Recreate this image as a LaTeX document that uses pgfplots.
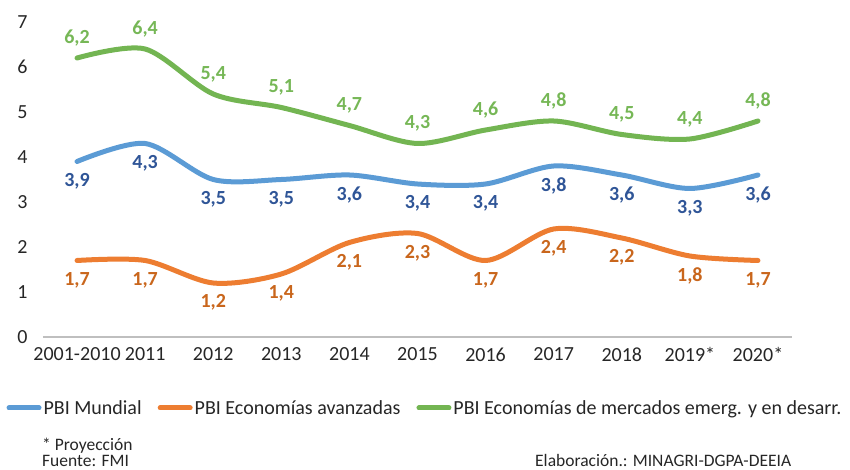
\documentclass[border=0pt]{standalone}
\usepackage{fontspec}
\setmainfont{Carlito}
\usepackage{pgfplots}
\pgfplotsset{compat=1.18}
\definecolor{lblue}{HTML}{5B9BD5}
\definecolor{lorange}{HTML}{ED7D31}
\definecolor{lgreen}{HTML}{73B552}
\definecolor{tblue}{HTML}{2F5597}
\definecolor{torange}{HTML}{C9661C}
\definecolor{tgreen}{HTML}{76B756}
\definecolor{axgray}{HTML}{BFBFBF}
\begin{document}
\begin{tikzpicture}[x=1pt,y=1pt]
\path[use as bounding box] (0,0) rectangle (850,470);
\begin{axis}[
  at={(43pt,133pt)}, anchor=south west,
  scale only axis, width=749pt, height=315pt,
  xmin=-0.5, xmax=10.5, ymin=0, ymax=7,
  axis x line*=bottom, axis y line=none,
  x axis line style={draw=axgray, line width=1.2pt, -},
  xtick={0,...,10},
  xticklabels={2001-2010,2011,2012,2013,2014,2015,2016,2017,2018,2019*,2020*},
  xtick style={draw=none},
  ytick={0,...,7},
  ytick style={draw=none},
  tick label style={font=\fontsize{20}{23}\selectfont, text=black!85},
  xticklabel style={yshift=-7pt},
  /pgf/number format/assume math mode=true,
  clip=false,
  nodes near coords,
  point meta=explicit symbolic,
  every node near coord/.append style={font=\fontsize{20}{23}\selectfont\bfseries},
  legend style={at={(0.51,-0.2254)}, anchor=center, draw=none, fill=none,
     legend columns=3, font=\fontsize{20}{23}\selectfont,
     /tikz/every even column/.append style={column sep=14pt},
     inner sep=0pt, text=black!85},
  legend cell align=left,
  legend image code/.code={\draw[#1, line width=5pt, line cap=round] (0pt,0pt) -- (30pt,0pt);},
]
\addplot[lblue, line width=5pt, smooth, tension=0.5, line cap=round,
  every node near coord/.append style={text=tblue, anchor=north, yshift=-6pt}]
  coordinates {(0,3.9)[3,9] (1,4.3)[4,3] (2,3.5)[3,5] (3,3.5)[3,5] (4,3.6)[3,6] (5,3.4)[3,4] (6,3.4)[3,4] (7,3.8)[3,8] (8,3.6)[3,6] (9,3.3)[3,3] (10,3.6)[3,6]};
\addlegendentry{PBI Mundial}
\addplot[lorange, line width=5pt, smooth, tension=0.5, line cap=round,
  every node near coord/.append style={text=torange, anchor=north, yshift=-6pt}]
  coordinates {(0,1.7)[1,7] (1,1.7)[1,7] (2,1.2)[1,2] (3,1.4)[1,4] (4,2.1)[2,1] (5,2.3)[2,3] (6,1.7)[1,7] (7,2.4)[2,4] (8,2.2)[2,2] (9,1.8)[1,8] (10,1.7)[1,7]};
\addlegendentry{PBI Economías avanzadas}
\addplot[lgreen, line width=5pt, smooth, tension=0.5, line cap=round,
  every node near coord/.append style={text=tgreen, anchor=south, yshift=6pt}]
  coordinates {(0,6.2)[6,2] (1,6.4)[6,4] (2,5.4)[5,4] (3,5.1)[5,1] (4,4.7)[4,7] (5,4.3)[4,3] (6,4.6)[4,6] (7,4.8)[4,8] (8,4.5)[4,5] (9,4.4)[4,4] (10,4.8)[4,8]};
\addlegendentry{PBI Economías de mercados emerg. y en desarr.}
\end{axis}
\foreach \v in {0,...,7}{
  \node[anchor=east, font=\fontsize{20}{23}\selectfont, text=black!85] at (31, 133+45*\v) {\v};
}
\node[anchor=north west, font=\fontsize{17.5}{16}\selectfont, align=left, inner sep=0pt, text=black!85] at (42,32) {* Proyección\\Fuente: FMI};
\node[anchor=north west, font=\fontsize{17.5}{17}\selectfont, inner sep=0pt, text=black!85] at (535,16) {Elaboración.: MINAGRI-DGPA-DEEIA};
\end{tikzpicture}
\end{document}
